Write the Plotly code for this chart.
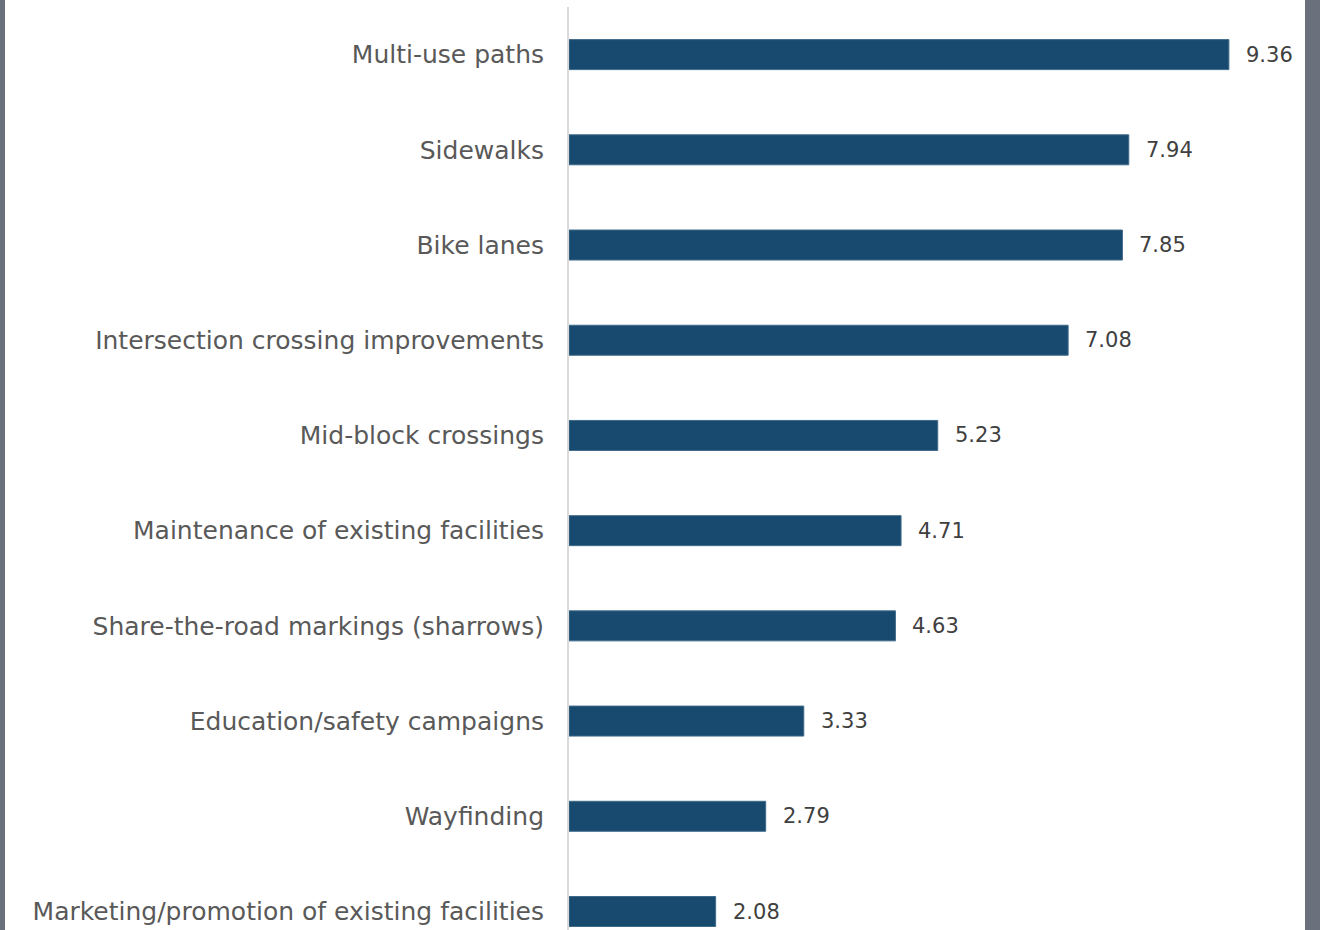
import plotly.graph_objects as go

categories = [
    "Multi-use paths",
    "Sidewalks",
    "Bike lanes",
    "Intersection crossing improvements",
    "Mid-block crossings",
    "Maintenance of existing facilities",
    "Share-the-road markings (sharrows)",
    "Education/safety campaigns",
    "Wayfinding",
    "Marketing/promotion of existing facilities",
]
values = [9.36, 7.94, 7.85, 7.08, 5.23, 4.71, 4.63, 3.33, 2.79, 2.08]
value_labels = [f"{v:.2f}" for v in values]

W, H = 1320, 930
L, R = 569, 1305
FONT = "DejaVu Sans"

fig = go.Figure()
fig.add_trace(go.Bar(
    x=values, y=categories, orientation="h",
    marker=dict(color="#174A6E", line=dict(width=1, color="#3F6A8A")),
    width=0.315, hoverinfo="skip",
))

for c, v, t in zip(categories, values, value_labels):
    fig.add_annotation(x=v, y=c, text=t, showarrow=False, xanchor="left",
                       xshift=15, font=dict(family=FONT, size=21, color="#404040"))

px_per_cat = 95.2
bottom = 9 + (H - 911.5) / px_per_cat

# decorative textured side strips
fig.add_shape(type="rect", xref="paper", yref="paper",
              x0=(5 - L) / (R - L), x1=1, y0=-0.05, y1=1.05,
              fillcolor="white", line=dict(width=0), layer="below")

fig.update_layout(
    width=W, height=H,
    margin=dict(l=L, r=W - R, t=7, b=0, pad=0),
    paper_bgcolor="#6A717D", plot_bgcolor="white",
    showlegend=False, bargap=0.5,
    xaxis=dict(range=[0, (R - L) / 70.5], visible=False, fixedrange=True),
    yaxis=dict(range=[bottom, -0.5], showline=True, linecolor="#D9D9D9",
               linewidth=2, ticks="", ticklabelstandoff=18,
               tickfont=dict(family=FONT, size=25, color="#595959"),
               showgrid=False, zeroline=False),
)

fig.write_html("out.html")
